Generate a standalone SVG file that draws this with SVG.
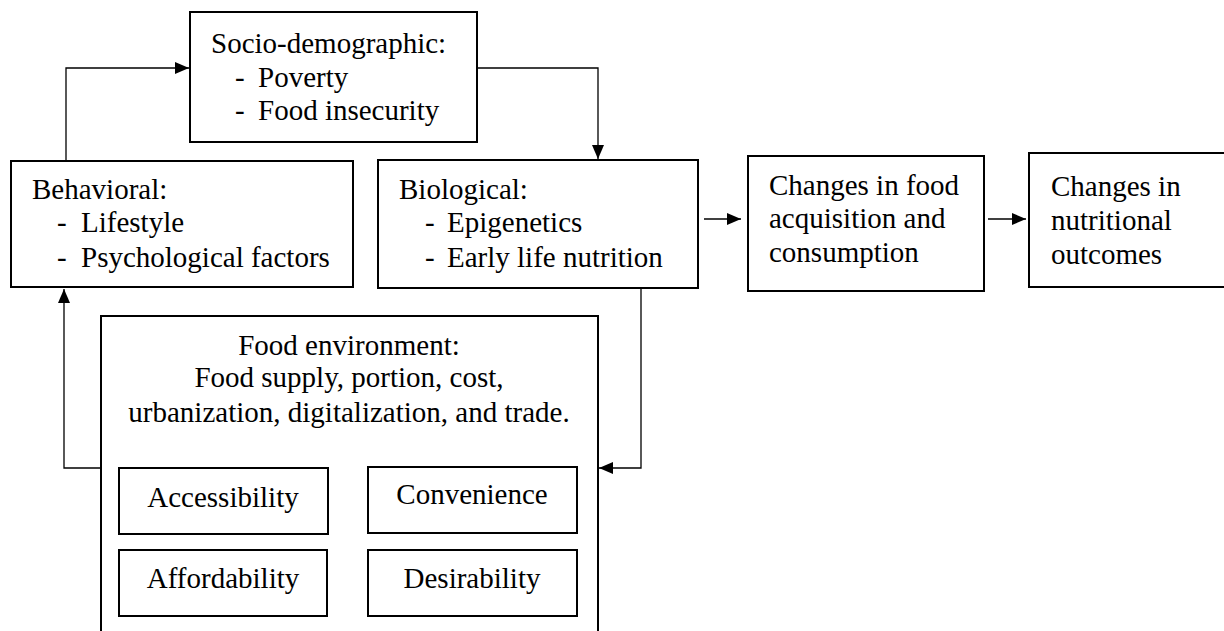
<svg xmlns="http://www.w3.org/2000/svg" width="1224" height="631" viewBox="0 0 1224 631">
<defs>
<marker id="ah" markerUnits="userSpaceOnUse" markerWidth="14" markerHeight="12" refX="14" refY="6" orient="auto">
<path d="M0,0 L14,6 L0,12 z" fill="#000"/>
</marker>
</defs>
<style>
.box{fill:#fff;stroke:#000;stroke-width:2}
.t{font-family:"Liberation Serif","Times New Roman",serif;font-size:29px;fill:#000}
.c{text-anchor:middle}
.ln{fill:none;stroke:#000;stroke-width:1.3}
</style>
<rect width="1224" height="631" fill="#fff"/>
<g id="connectors">
<path class="ln" d="M66,161 V68 H189" marker-end="url(#ah)"/>
<path class="ln" d="M477,68 H598 V159" marker-end="url(#ah)"/>
<path class="ln" d="M704,219 H741" marker-end="url(#ah)"/>
<path class="ln" d="M988,219 H1026" marker-end="url(#ah)"/>
<path class="ln" d="M641,289 V468 H599" marker-end="url(#ah)"/>
<path class="ln" d="M101,468 H64 V289" marker-end="url(#ah)"/>
</g>
<g id="socio">
<rect class="box" x="190" y="12" width="287" height="130"/>
<text class="t" x="211" y="53">Socio-demographic:</text>
<text class="t" x="235" y="87">-</text><text class="t" x="258" y="87">Poverty</text>
<text class="t" x="235" y="120">-</text><text class="t" x="258" y="120">Food insecurity</text>
</g>
<g id="behavioral">
<rect class="box" x="11" y="161" width="342" height="126"/>
<text class="t" x="32" y="199">Behavioral:</text>
<text class="t" x="57" y="232">-</text><text class="t" x="81" y="232">Lifestyle</text>
<text class="t" x="57" y="267">-</text><text class="t" x="81" y="267">Psychological factors</text>
</g>
<g id="biological">
<rect class="box" x="378" y="160" width="320" height="128"/>
<text class="t" x="399" y="199">Biological:</text>
<text class="t" x="425" y="232">-</text><text class="t" x="447" y="232">Epigenetics</text>
<text class="t" x="425" y="267">-</text><text class="t" x="447" y="267">Early life nutrition</text>
</g>
<g id="changes-food">
<rect class="box" x="748" y="156" width="236" height="135"/>
<text class="t" x="769" y="195">Changes in food</text>
<text class="t" x="769" y="228">acquisition and</text>
<text class="t" x="769" y="262">consumption</text>
</g>
<g id="changes-nutrition">
<rect class="box" x="1029" y="153" width="205" height="134"/>
<text class="t" x="1051" y="196">Changes in</text>
<text class="t" x="1051" y="230">nutritional</text>
<text class="t" x="1051" y="264">outcomes</text>
</g>
<g id="food-environment">
<rect class="box" x="101" y="316" width="497" height="330"/>
<text class="t c" x="349" y="355">Food environment:</text>
<text class="t c" x="349" y="387">Food supply, portion, cost,</text>
<text class="t c" x="349" y="422">urbanization, digitalization, and trade.</text>
</g>
<g id="accessibility">
<rect class="box" x="119" y="468" width="209" height="66"/>
<text class="t c" x="223" y="507">Accessibility</text>
</g>
<g id="convenience">
<rect class="box" x="368" y="467" width="209" height="66"/>
<text class="t c" x="472" y="504">Convenience</text>
</g>
<g id="affordability">
<rect class="box" x="119" y="550" width="208" height="66"/>
<text class="t c" x="223" y="588">Affordability</text>
</g>
<g id="desirability">
<rect class="box" x="368" y="550" width="209" height="66"/>
<text class="t c" x="472" y="588">Desirability</text>
</g>
</svg>
